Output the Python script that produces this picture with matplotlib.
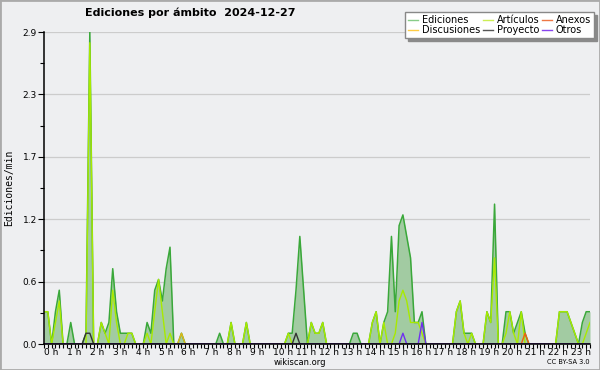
import numpy as np
import matplotlib.pyplot as plt
import matplotlib.transforms as mtransforms
from matplotlib.lines import Line2D
from matplotlib.patches import Rectangle

# edits per minute, one value per 10 minutes (6 per hour, 144 per day)
ediciones = [
    0.3, 0.3, 0, 0.3, 0.5, 0,        # 0 h
    0, 0.2, 0, 0, 0, 0.1,            # 1 h
    2.9, 0, 0, 0.2, 0.1, 0.2,        # 2 h
    0.7, 0.3, 0.1, 0.1, 0.1, 0.1,    # 3 h
    0, 0, 0, 0.2, 0.1, 0.5,          # 4 h
    0.6, 0.4, 0.7, 0.9, 0, 0,        # 5 h
    0.1, 0, 0, 0, 0, 0,              # 6 h
    0, 0, 0, 0, 0.1, 0,              # 7 h
    0, 0.2, 0, 0, 0, 0.2,            # 8 h
    0, 0, 0, 0, 0, 0,                # 9 h
    0, 0, 0, 0, 0.1, 0.1,            # 10 h
    0.5, 1.0, 0.5, 0, 0.2, 0.1,      # 11 h
    0.1, 0.2, 0, 0, 0, 0,            # 12 h
    0, 0, 0, 0.1, 0.1, 0,            # 13 h
    0, 0, 0.2, 0.3, 0, 0.2,          # 14 h
    0.3, 1.0, 0.3, 1.1, 1.2, 1.0,    # 15 h
    0.8, 0.2, 0.2, 0.3, 0, 0,        # 16 h
    0, 0, 0, 0, 0, 0,                # 17 h
    0.3, 0.4, 0.1, 0.1, 0.1, 0,      # 18 h
    0, 0, 0.3, 0.2, 1.3, 0,          # 19 h
    0, 0.3, 0.3, 0.1, 0.2, 0.3,      # 20 h
    0.1, 0, 0, 0, 0, 0,              # 21 h
    0, 0, 0, 0.3, 0.3, 0.3,          # 22 h
    0.2, 0.1, 0, 0.2, 0.3, 0.3,      # 23 h
]

articulos = [
    0.3, 0.3, 0, 0.2, 0.4, 0,
    0, 0, 0, 0, 0, 0,
    2.8, 0, 0, 0.2, 0.1, 0,
    0.5, 0.2, 0, 0, 0.1, 0.1,
    0, 0, 0, 0.1, 0, 0.3,
    0.6, 0.3, 0, 0.1, 0, 0,
    0, 0, 0, 0, 0, 0,
    0, 0, 0, 0, 0, 0,
    0, 0.2, 0, 0, 0, 0.2,
    0, 0, 0, 0, 0, 0,
    0, 0, 0, 0, 0.1, 0,
    0, 0, 0, 0, 0.2, 0.1,
    0.1, 0.2, 0, 0, 0, 0,
    0, 0, 0, 0, 0, 0,
    0, 0, 0.2, 0.3, 0, 0.2,
    0, 0, 0.1, 0.4, 0.5, 0.4,
    0.2, 0.2, 0.2, 0.1, 0, 0,
    0, 0, 0, 0, 0, 0,
    0.3, 0.4, 0.1, 0, 0.1, 0,
    0, 0, 0.3, 0.2, 0.8, 0,
    0, 0.1, 0.3, 0.1, 0, 0.3,
    0, 0, 0, 0, 0, 0,
    0, 0, 0, 0.3, 0.3, 0.3,
    0.2, 0.1, 0, 0, 0.1, 0.2,
]

# the small namespaces, only the non-zero 10 minute slots
proyecto = {11: 0.1, 12: 0.1, 66: 0.1}
otros = {94: 0.1, 99: 0.2}
anexos = {126: 0.1}
discusiones = {36: 0.1}

hour_labels = ['%d h' % h for h in range(24)]
y_ticks = [0, 0.58, 1.16, 1.74, 2.32, 2.9]
y_labels = ['0.0', '0.6', '1.2', '1.7', '2.3', '2.9']

bg = '#eeeff1'
n = len(ediciones)
x = np.arange(n)


def full(sparse):
    s = np.zeros(n)
    for k, v in sparse.items():
        s[k] = v
    return s


fig = plt.figure(figsize=(6, 3.7), dpi=100, facecolor=bg)
ax = fig.add_axes([44 / 600, 1 - 344 / 370, 546 / 600, 312 / 370])
ax.set_facecolor(bg)

ax.fill_between(x, ediciones, color='#a2cba2', lw=0, zorder=1)
ax.plot(x, ediciones, color='#3aa83a', lw=1.1, zorder=2)
ax.plot(x, articulos, color='#a8ea00', lw=1.0, zorder=3)
ax.plot(x, full(discusiones), color='#e0b818', lw=1.0, zorder=3)
ax.plot(x, full(anexos), color='#f06010', lw=1.0, zorder=3)
ax.plot(x, full(proyecto), color='#333333', lw=1.0, zorder=3)
ax.plot(x, full(otros), color='#7030f0', lw=1.0, zorder=3)

ax.set_xlim(0, n - 1)
ax.set_ylim(0, 2.9)

ax.set_yticks(y_ticks)
ax.set_yticklabels(y_labels)
ax.set_yticks([(a + b) / 2 for a, b in zip(y_ticks[:-1], y_ticks[1:])], minor=True)
ax.yaxis.grid(True, color='#cccccc', lw=0.9)
ax.set_axisbelow(True)

ax.set_xticks(range(0, n, 6))
ax.set_xticklabels(hour_labels)
ax.set_xticks(range(n), minor=True)
shift = mtransforms.ScaledTranslation(-2 / 72, 0, fig.dpi_scale_trans)
for lab in ax.get_xticklabels():
    lab.set_horizontalalignment('left')
    lab.set_transform(lab.get_transform() + shift)

ax.tick_params(which='both', direction='out', length=3, width=0.8, labelsize=6.5, pad=1)
ax.tick_params(axis='x', which='major', pad=0)
ax.tick_params(axis='y', which='major', length=4)

for s in ['top', 'right']:
    ax.spines[s].set_visible(False)
for s in ['left', 'bottom']:
    ax.spines[s].set_linewidth(1.1)
    ax.spines[s].set_zorder(5)

ax.set_ylabel('Ediciones/min', family='DejaVu Sans Mono', fontsize=7, labelpad=6)

fig.text(85 / 600, 1 - 13 / 370, 'Ediciones por ámbito  2024-12-27', fontsize=8,
         fontweight='bold', ha='left', va='center')
fig.text(300 / 600, 1 - 362.5 / 370, 'wikiscan.org', fontsize=6, ha='center', va='center')
fig.text(590 / 600, 1 - 362 / 370, 'CC BY-SA 3.0', fontsize=4.8, ha='right', va='center')

handles = [
    Line2D([], [], color='#88cc88', lw=1),
    Line2D([], [], color='#ffcc44', lw=1),
    Line2D([], [], color='#ccee55', lw=1),
    Line2D([], [], color='#555555', lw=1),
    Line2D([], [], color='#ee7744', lw=1),
    Line2D([], [], color='#8844ee', lw=1),
]
names = ['Ediciones', 'Discusiones', 'Artículos', 'Proyecto', 'Anexos', 'Otros']
leg = fig.legend(handles, names, ncol=3, loc='upper right',
                 bbox_to_anchor=(594 / 600, 1 - 12 / 370), fontsize=7,
                 frameon=True, fancybox=False, shadow={'color': '#8a8a8a', 'alpha': 1},
                 edgecolor='#888888', facecolor='white', framealpha=1,
                 handlelength=1.0, handletextpad=0.4, columnspacing=0.3,
                 labelspacing=0.0, borderpad=0.3, borderaxespad=0)

fig.add_artist(Rectangle((0, 0), 1, 1, transform=fig.transFigure, fill=False,
                         edgecolor='#aaaaaa', lw=2))

fig.savefig('out.png', dpi=100, facecolor=bg)
